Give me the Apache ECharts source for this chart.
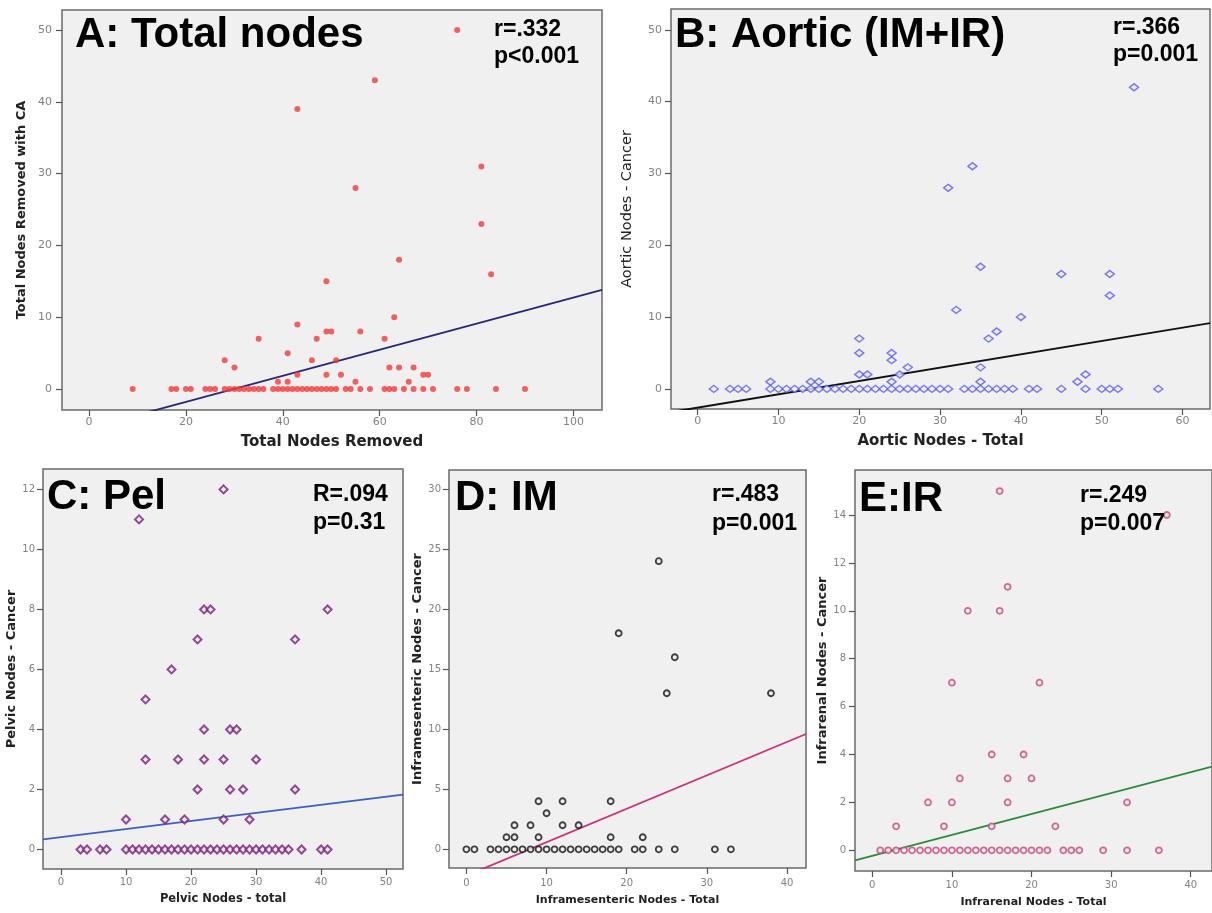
<!DOCTYPE html>
<html><head><meta charset="utf-8">
<script src="https://cdn.jsdelivr.net/npm/echarts@6/dist/echarts.min.js"></script>
<style>html,body{margin:0;padding:0;background:#fff}#c{width:1212px;height:913px}</style>
</head><body><div id="c"></div>
<script>
// ---------- DATA ----------
// Panel A: Total nodes
const zeroA = [9,17,18,20,21,24,25,26,28,29,30,31,32,33,34,35,36,38,39,40,41,42,43,44,45,46,47,48,49,50,51,53,54,56,58,61,62,63,65,67,69,71,76,78,84,90];
const raisedA = [[39,1],[41,1],[55,1],[66,1],[43,2],[49,2],[52,2],[69,2],[70,2],[30,3],[62,3],[64,3],[67,3],
  [28,4],[46,4],[51,4],[41,5],[35,7],[47,7],[61,7],[49,8],[50,8],[56,8],[43,9],[63,10],[49,15],[83,16],
  [64,18],[81,23],[55,28],[81,31],[43,39],[59,43],[76,50]];
const fitA = [-5.42, 0.1815];            // [intercept, slope]
const ticksAx = [0,20,40,60,80,100];
const ticksAy = [0,10,20,30,40,50];

// Panel B: Aortic (IM+IR)
const zeroB = [2,4,5,6,9,10,11,12,13,14,15,16,17,18,19,20,21,22,23,24,25,26,27,28,29,30,31,33,34,35,36,37,38,39,41,42,45,48,50,51,52,57];
const raisedB = [[9,1],[14,1],[15,1],[24,1],[35,1],[47,1],[20,2],[21,2],[25,2],[48,2],[26,3],[35,3],[24,4],
  [20,5],[24,5],[20,7],[36,7],[37,8],[40,10],[32,11],[51,13],[45,16],[51,16],[35,17],[31,28],[34,31],[54,42]];
const fitB = [-2.61, 0.1856];
const ticksBx = [0,10,20,30,40,50,60];
const ticksBy = [0,10,20,30,40,50];

// Panel C: Pel
const zeroC = [3,4,6,7,10,11,12,13,14,15,16,17,18,19,20,21,22,23,24,25,26,27,28,29,30,31,32,33,34,35,37,40,41];
const raisedC = [[10,1],[16,1],[19,1],[25,1],[29,1],[21,2],[26,2],[28,2],[36,2],[13,3],[18,3],[22,3],[25,3],[30,3],
  [22,4],[26,4],[27,4],[13,5],[17,6],[21,7],[36,7],[22,8],[23,8],[41,8],[12,11],[25,12]];
const fitC = [0.4145, 0.0269];
const ticksCx = [0,10,20,30,40,50];
const ticksCy = [0,2,4,6,8,10,12];

// Panel D: IM
const zeroD = [0,1,3,4,5,6,7,8,9,10,11,12,13,14,15,16,17,18,19,21,22,24,26,31,33];
const raisedD = [[5,1],[6,1],[9,1],[18,1],[22,1],[6,2],[8,2],[12,2],[14,2],[10,3],[9,4],[12,4],[18,4],
  [25,13],[38,13],[26,16],[19,18],[24,24]];
const fitD = [-2.195, 0.2784];
const ticksDx = [0,10,20,30,40];
const ticksDy = [0,5,10,15,20,25,30];

// Panel E: IR
const zeroE = [1,2,3,4,5,6,7,8,9,10,11,12,13,14,15,16,17,18,19,20,21,22,24,25,26,29,32,36];
const raisedE = [[3,1],[9,1],[15,1],[23,1],[7,2],[10,2],[17,2],[32,2],[11,3],[17,3],[20,3],[15,4],[19,4],
  [10,7],[21,7],[12,10],[16,10],[17,11],[37,14],[16,15]];
const fitE = [-0.2306, 0.0873];
const ticksEx = [0,10,20,30,40];
const ticksEy = [0,2,4,6,8,10,12,14];

// ---------- LAYOUT / STYLE ----------
const BG = '#f0f0f0';
const panels = [
  { grid:{left:62, top:10, width:540, height:400}, xr:[-5.6,105.9], yr:[-2.92,52.79], xt:ticksAx, yt:ticksAy,
    zero:zeroA, raised:raisedA, fit:fitA,
    xname:'Total Nodes Removed', yname:'Total Nodes Removed with CA',
    xnf:15, ynf:13, ynw:'bold', xgap:25, ygap:34, lf:11, xm:7, ym:10,
    sym:{symbol:'circle', symbolSize:6, itemStyle:{color:'#f23b3b'}},
    line:{color:'#27277a', width:1.8} },
  { grid:{left:671, top:9, width:539, height:400}, xr:[-3.3,63.4], yr:[-2.8,52.9], xt:ticksBx, yt:ticksBy,
    zero:zeroB, raised:raisedB, fit:fitB,
    xname:'Aortic Nodes - Total', yname:'Aortic Nodes - Cancer',
    xnf:15, ynf:14.5, ynw:'normal', xgap:25, ygap:36, lf:11, xm:7, ym:9,
    sym:{symbol:'diamond', symbolSize:[9,7], itemStyle:{color:BG, borderColor:'#5a5af5', borderWidth:1.5}},
    line:{color:'#111', width:2} },
  { grid:{left:43, top:469, width:360, height:400}, xr:[-2.77,52.6], yr:[-0.65,12.68], xt:ticksCx, yt:ticksCy,
    zero:zeroC, raised:raisedC, fit:fitC,
    xname:'Pelvic Nodes - total', yname:'Pelvic Nodes - Cancer',
    xnf:11.5, ynf:13, ynw:'bold', xgap:24, ygap:23, lf:10, xm:8, ym:8,
    sym:{symbol:'diamond', symbolSize:[8,8], itemStyle:{color:BG, borderColor:'#7a1e7d', borderWidth:2}},
    line:{color:'#3f5fc0', width:1.8} },
  { grid:{left:449, top:470, width:357, height:398}, xr:[-2.17,42.37], yr:[-1.56,31.6], xt:ticksDx, yt:ticksDy,
    zero:zeroD, raised:raisedD, fit:fitD,
    xname:'Inframesenteric Nodes - Total', yname:'Inframesenteric Nodes - Cancer',
    xnf:11, ynf:13, ynw:'bold', xgap:27, ygap:24, lf:10, xm:10, ym:8,
    sym:{symbol:'circle', symbolSize:6, itemStyle:{color:BG, borderColor:'#111', borderWidth:1.8}},
    line:{color:'#c8327c', width:1.8} },
  { grid:{left:855, top:470, width:365, height:401}, xr:[-2.17,42.67], yr:[-0.865,15.88], xt:ticksEx, yt:ticksEy,
    zero:zeroE, raised:raisedE, fit:fitE,
    xname:'Infrarenal Nodes - Total', yname:'Infrarenal Nodes - Cancer',
    xnf:11, ynf:13, ynw:'bold', xgap:26, ygap:22, lf:10, xm:9, ym:9,
    sym:{symbol:'circle', symbolSize:6, itemStyle:{color:BG, borderColor:'#c8457e', borderWidth:1.8}},
    line:{color:'#2b8a3c', width:1.8} }
];

const grids = [], xAxes = [], yAxes = [], series = [];
panels.forEach((p, i) => {
  grids.push(Object.assign({show:true, backgroundColor:BG, borderColor:'#6a6a6a', borderWidth:1.5, containLabel:false}, p.grid));
  const tick = {show:true, length:6, inside:false, lineStyle:{color:'#555', width:1.2}};
  xAxes.push({type:'value', gridIndex:i, min:p.xr[0], max:p.xr[1], position:'bottom',
    axisLine:{show:false, onZero:false}, splitLine:{show:false},
    axisTick:Object.assign({customValues:p.xt}, tick),
    axisLabel:{customValues:p.xt, color:'#828282', fontSize:p.lf, fontFamily:'DejaVu Sans', margin:p.xm},
    name:p.xname, nameLocation:'middle', nameGap:p.xgap,
    nameTextStyle:{fontFamily:'DejaVu Sans', fontWeight:'bold', fontSize:p.xnf, color:'#222'}});
  yAxes.push({type:'value', gridIndex:i, min:p.yr[0], max:p.yr[1], position:'left',
    axisLine:{show:false, onZero:false}, splitLine:{show:false},
    axisTick:Object.assign({customValues:p.yt}, tick),
    axisLabel:{customValues:p.yt, color:'#828282', fontSize:p.lf, fontFamily:'DejaVu Sans', margin:p.ym},
    name:p.yname, nameLocation:'middle', nameGap:p.ygap,
    nameTextStyle:{fontFamily:'DejaVu Sans', fontWeight:p.ynw, fontSize:p.ynf, color:'#222'}});
  const x0 = p.xr[0], x1 = p.xr[1];
  series.push({type:'line', xAxisIndex:i, yAxisIndex:i, symbol:'none', silent:true, clip:true, z:2,
    lineStyle:p.line, data:[[x0, p.fit[0] + p.fit[1]*x0],[x1, p.fit[0] + p.fit[1]*x1]]});
  series.push(Object.assign({type:'scatter', xAxisIndex:i, yAxisIndex:i, z:3,
    data:p.zero.map(x => [x, 0]).concat(p.raised)}, p.sym));
});

function label(text, x, y, size) {
  return {type:'text', z:10, style:{text:text, x:x, y:y, font:'bold ' + size + 'px "Liberation Sans", Arial, sans-serif',
    fill:'#000', textAlign:'left', textVerticalAlign:'middle'}};
}
const graphics = [
  label('A: Total nodes', 75, 35, 42),
  label('r=.332', 494, 30, 23), label('p<0.001', 494, 57, 23),
  label('B: Aortic (IM+IR)', 675, 35, 42),
  label('r=.366', 1113, 28, 23), label('p=0.001', 1113, 55, 23),
  label('C: Pel', 47, 497, 42),
  label('R=.094', 313, 495, 23), label('p=0.31', 313, 523, 23),
  label('D: IM', 455, 498, 42),
  label('r=.483', 712, 495, 23), label('p=0.001', 712, 524, 23),
  label('E:IR', 859, 499, 42),
  label('r=.249', 1080, 496, 23), label('p=0.007', 1080, 524, 23)
];

const chart = echarts.init(document.getElementById('c'), null, {renderer:'canvas'});
chart.setOption({animation:false, backgroundColor:'#fff', grid:grids, xAxis:xAxes, yAxis:yAxes, series:series, graphic:graphics});
</script></body></html>
